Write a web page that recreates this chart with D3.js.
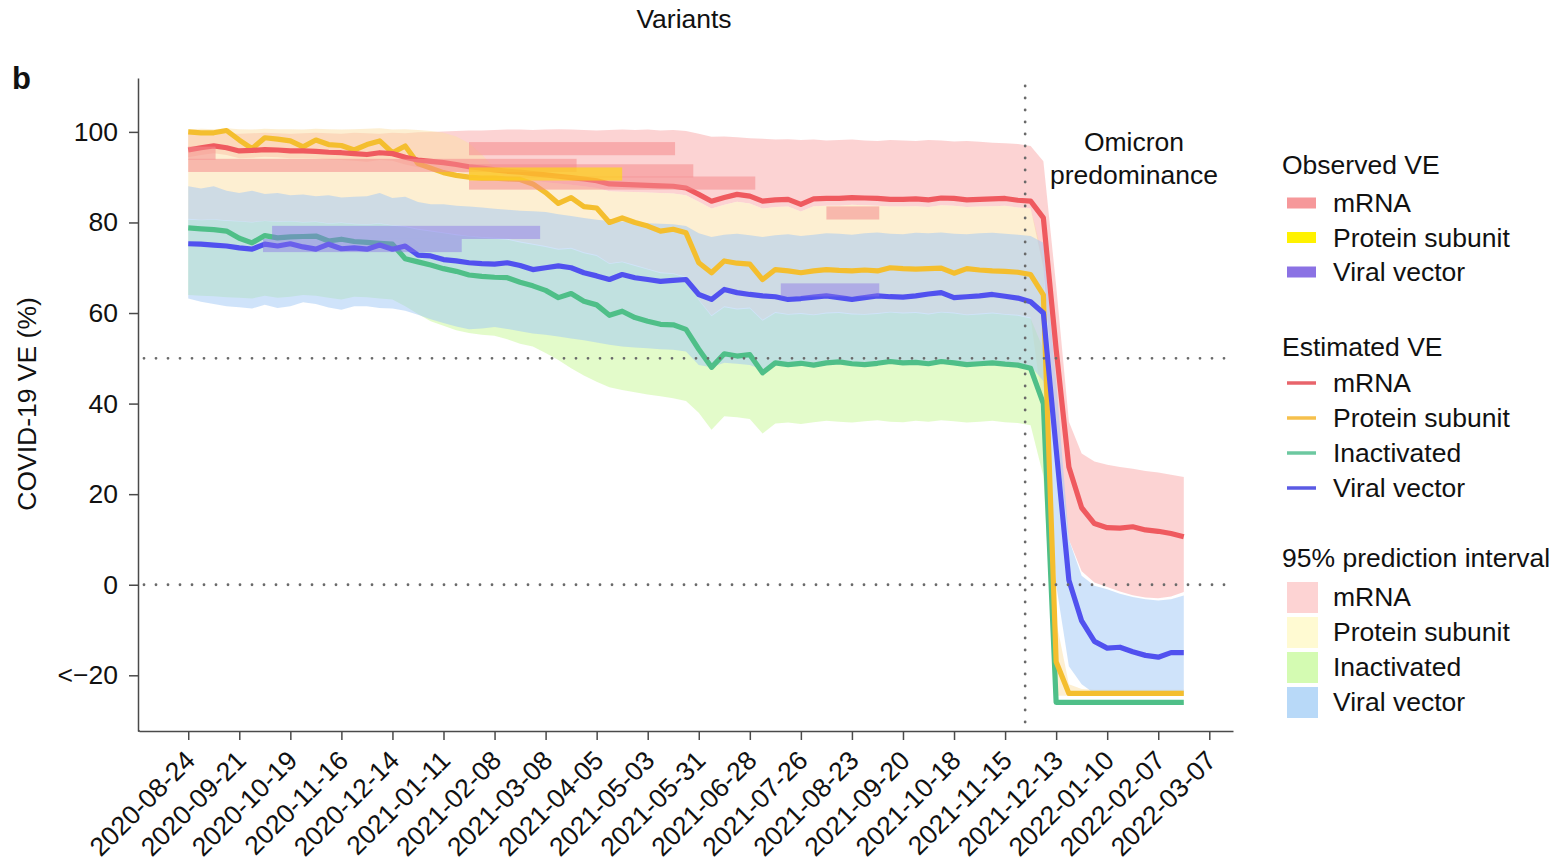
<!DOCTYPE html>
<html>
<head>
<meta charset="utf-8">
<script src="https://cdn.jsdelivr.net/npm/d3@7"></script>
<style>
  html, body { margin: 0; background: #fff; }
  svg { display: block; }
  text { font-family: "Liberation Sans", Arial, Helvetica, sans-serif; fill: #111; }
</style>
</head>
<body>
<svg id="chart" width="1568" height="863"></svg>
<script>
// ---- weekly estimates, 2020-08-24 .. 2022-02-21 ----
const firstWeek = "2020-08-24";
const lastWeek = "2022-02-21";
const omicronStart = "2021-11-26";

const tickLabels = ["2020-08-24","2020-09-21","2020-10-19","2020-11-16","2020-12-14","2021-01-11",
  "2021-02-08","2021-03-08","2021-04-05","2021-05-03","2021-05-31","2021-06-28","2021-07-26",
  "2021-08-23","2021-09-20","2021-10-18","2021-11-15","2021-12-13","2022-01-10","2022-02-07","2022-03-07"];
const yTicks = [-20, 0, 20, 40, 60, 80, 100];
const yTickLabels = ["<\u221220", "0", "20", "40", "60", "80", "100"];
const refLevels = [0, 50];

// estimated VE (%)
const mrnaVE = [96.0,96.5,96.9,96.5,95.8,95.9,96.1,96.0,95.8,95.8,95.7,95.5,95.4,95.2,95.0,95.4,95.2,94.4,
  93.8,93.5,93.2,92.8,92.3,92.0,91.6,91.3,91.1,90.8,90.5,90.2,89.9,89.6,89.2,88.5,88.4,88.3,88.2,88.1,88.0,87.6,86.2,
  84.7,85.5,86.2,85.8,84.7,85.0,85.1,84.0,85.2,85.3,85.3,85.5,85.4,85.3,85.1,85.1,85.2,85.0,85.4,85.3,85.0,85.1,85.2,85.3,84.9,84.7,
  81.0,52.0,26.0,17.0,13.5,12.6,12.5,12.8,12.1,11.8,11.3,10.6];
const proteinVE = [100.0,99.8,99.8,100.3,98.2,96.3,98.7,98.4,98.0,96.7,98.2,97.2,97.0,96.0,97.2,98.0,95.4,96.9,
  93.0,92.0,91.0,90.4,90.0,89.8,89.8,89.6,89.5,88.5,86.6,84.2,85.5,83.5,83.2,80.0,81.0,80.0,79.2,78.1,78.5,77.7,71.1,
  68.9,71.5,71.0,70.8,67.4,69.6,69.3,68.9,69.3,69.6,69.4,69.3,69.5,69.3,70.0,69.8,69.7,69.8,69.9,68.8,69.8,69.5,69.3,69.2,69.0,68.5,
  64.0,-17.0,-24.0,-24.0,-24.0,-24.0,-24.0,-24.0,-24.0,-24.0,-24.0,-24.0];
const inactivatedVE = [78.8,78.6,78.4,78.1,76.5,75.5,77.1,76.6,76.8,76.9,77.0,75.9,76.3,75.8,75.6,75.4,75.2,72.0,
  71.3,70.6,69.8,69.2,68.4,68.1,67.9,67.8,66.8,66.0,65.0,63.4,64.3,62.6,61.8,59.5,60.4,59.0,58.2,57.5,57.4,56.4,52.0,
  48.0,51.0,50.5,50.8,46.8,49.0,48.6,48.9,48.5,49.0,49.2,48.8,48.6,48.9,49.3,49.0,49.1,48.8,49.3,49.0,48.6,48.8,49.0,48.7,48.5,47.8,
  40.0,-26.0,-26.0,-26.0,-26.0,-26.0,-26.0,-26.0,-26.0,-26.0,-26.0,-26.0];
const viralVectorVE = [75.3,75.2,75.0,74.8,74.4,74.1,75.2,74.8,75.3,74.6,74.1,75.2,74.2,74.4,74.1,75.0,74.1,74.8,
  72.8,72.6,71.8,71.5,71.1,70.9,70.8,71.1,70.5,69.6,70.0,70.4,70.0,68.9,68.2,67.4,68.5,67.8,67.4,67.0,67.2,67.4,64.1,
  63.0,65.2,64.5,64.1,63.8,63.6,63.0,63.2,63.5,63.8,63.4,63.0,63.4,63.8,63.6,63.5,63.8,64.2,64.5,63.4,63.6,63.8,64.1,63.7,63.3,62.5,
  60.0,30.0,1.0,-8.0,-12.5,-14.0,-13.8,-14.8,-15.6,-16.0,-15.0,-15.0];

// 95% prediction intervals (%)
const mrnaUpper = [99.6,99.7,99.8,99.7,99.6,99.7,99.8,99.7,99.6,99.7,99.8,99.7,99.6,99.8,99.7,99.6,99.8,99.7,
  99.9,100.0,100.1,100.2,100.3,100.3,100.4,100.5,100.5,100.4,100.5,100.6,100.5,100.4,100.3,100.4,100.5,100.4,100.5,100.3,100.4,100.2,99.6,
  98.9,99.0,98.8,98.6,98.5,98.3,98.4,98.2,98.3,98.1,98.2,98.3,98.1,98.0,98.2,98.1,98.0,98.2,98.1,97.9,98.0,97.8,97.6,97.5,97.3,96.9,
  93.5,66.0,36.0,29.0,27.2,26.5,26.0,25.6,25.1,24.8,24.3,23.8];
const mrnaLower = [94.4,94.9,95.3,94.9,94.2,94.3,94.5,94.4,94.2,94.2,94.1,93.9,93.8,93.6,93.4,93.8,93.6,92.8,
  92.2,91.9,91.6,91.2,90.7,90.4,90.0,89.7,89.5,89.2,88.9,88.6,88.3,88.0,87.6,86.9,86.8,86.7,86.6,86.5,86.4,86.0,84.6,
  83.1,83.9,84.6,84.2,83.1,83.4,83.5,82.4,83.6,83.7,83.7,83.9,83.8,83.7,83.5,83.5,83.6,83.4,83.8,83.7,83.4,83.5,83.6,83.7,83.3,83.1,
  70.0,34.0,10.0,3.0,0.5,-0.5,-1.5,-2.3,-2.8,-3.0,-2.6,-1.6];
const proteinUpper = [100.6,100.7,100.6,100.8,100.6,100.5,100.7,100.6,100.6,100.5,100.7,100.6,100.5,100.6,100.7,100.8,100.5,100.6,
  100.4,100.2,99.8,99.0,97.5,95.0,92.0,89.7,89.5,89.2,88.9,88.6,88.3,88.0,87.6,86.9,86.8,86.7,86.6,86.5,86.4,86.0,84.6,
  83.1,83.9,84.6,84.2,83.1,83.4,83.5,82.4,83.6,83.7,83.7,83.9,83.8,83.7,83.5,83.5,83.6,83.4,83.8,83.7,83.4,83.5,83.6,83.7,83.3,83.1,
  72.0,-8.0,-22.0,-23.0,-23.2,-23.2,-23.2,-23.2,-23.2,-23.2,-23.2,-23.2];
const proteinLower = [80.8,80.6,80.7,80.5,80.3,80.1,80.4,80.2,80.3,80.1,80.2,79.8,80.0,79.7,79.6,79.8,79.4,79.2,
  78.6,78.2,77.8,77.4,77.0,76.8,76.6,76.4,75.8,75.3,74.8,74.2,74.4,73.4,72.8,71.0,71.4,70.6,69.8,69.0,68.8,68.0,63.0,
  59.5,61.5,61.0,61.2,58.5,60.2,59.8,60.0,59.7,60.1,60.2,59.9,59.8,60.0,60.3,60.1,60.2,59.9,60.3,60.1,59.7,59.9,60.1,59.8,59.6,59.0,
  38.0,-24.5,-24.5,-24.5,-24.5,-24.5,-24.5,-24.5,-24.5,-24.5,-24.5,-24.5];
const inactivatedUpper = [80.6,80.5,80.6,80.3,80.2,80.0,80.3,80.1,80.2,80.0,80.1,79.7,79.9,79.6,79.5,79.7,79.3,79.0,
  78.4,78.0,77.6,77.2,76.9,76.6,76.4,76.2,75.6,75.1,74.6,74.0,74.2,73.2,72.6,70.8,71.2,70.4,69.6,68.8,68.6,67.8,62.8,
  59.3,61.3,60.8,61.0,58.3,60.0,59.6,59.8,59.5,59.9,60.0,59.7,59.6,59.8,60.1,59.9,60.0,59.7,60.1,59.9,59.5,59.7,59.9,59.6,59.4,58.8,
  52.0,-25.8,-25.8,-25.8,-25.8,-25.8,-25.8,-25.8,-25.8,-25.8,-25.8,-25.8];
const inactivatedLower = [64.0,63.8,63.7,63.5,63.4,63.2,63.8,63.4,63.6,64.0,63.8,63.4,63.0,63.6,63.5,63.2,63.0,61.5,
  59.8,58.2,57.2,56.2,55.6,55.2,55.0,54.2,53.2,52.6,51.2,49.6,47.8,46.2,44.8,43.6,43.0,42.5,42.0,41.6,41.2,40.6,38.0,
  34.2,37.2,37.0,36.6,33.4,35.6,35.8,35.5,35.9,36.2,36.0,35.8,36.1,36.3,36.0,35.9,36.2,36.0,36.3,36.1,35.8,36.0,36.2,35.9,35.7,35.2,
  24.0,-26.5,-26.5,-26.5,-26.5,-26.5,-26.5,-26.5,-26.5,-26.5,-26.5,-26.5];
const viralVectorUpper = [88.0,87.5,88.0,87.0,86.5,87.0,86.3,86.5,86.0,86.2,85.8,86.0,85.5,85.7,85.8,86.5,85.4,85.7,
  84.5,84.0,84.0,83.7,83.5,83.3,83.0,82.8,82.6,82.5,82.3,81.8,81.4,81.0,80.6,80.3,80.2,80.0,79.8,79.7,79.6,79.2,77.6,
  76.8,77.3,77.5,77.2,76.8,77.2,77.4,77.0,77.3,77.6,77.5,77.3,77.6,77.8,77.5,77.4,77.7,77.6,77.8,77.5,77.4,77.6,77.7,77.5,77.3,77.0,
  75.5,45.0,10.0,2.0,-0.2,-1.0,-2.0,-2.7,-3.2,-3.5,-3.2,-2.4];
const viralVectorLower = [63.2,62.5,62.0,61.5,61.3,61.0,61.8,61.1,61.5,62.4,62.0,61.2,60.7,61.5,61.5,61.1,61.0,60.5,
  59.6,58.6,57.8,57.0,56.4,56.6,56.9,56.5,56.0,55.5,55.2,54.8,54.4,54.0,53.5,53.0,52.6,52.4,52.2,52.0,51.9,51.5,48.5,
  48.0,49.0,48.8,48.5,47.5,48.5,48.6,48.4,48.7,48.9,49.0,48.8,48.7,48.9,49.1,48.9,49.0,48.8,49.2,49.0,48.7,48.9,49.0,48.8,48.6,48.3,
  45.0,0.0,-18.0,-22.0,-24.0,-24.5,-24.5,-24.5,-24.5,-24.5,-24.5,-24.5];

// observed VE from studies: platform, period start/end, VE (%)
const obsPlatform = ["mRNA","mRNA","mRNA","mRNA","mRNA","mRNA","Protein subunit","Viral vector","Viral vector","Viral vector"];
const obsStart = ["2020-08-24","2020-08-24","2021-01-25","2021-01-25","2021-01-25","2021-08-09","2021-01-25","2020-10-09","2020-10-04","2021-07-15"];
const obsEnd   = ["2020-09-08","2021-03-25","2021-05-18","2021-05-28","2021-07-01","2021-09-07","2021-04-19","2021-03-05","2021-01-21","2021-09-07"];
const obsVE    = [95.3, 92.6, 96.3, 91.4, 88.7, 82.1, 90.7, 77.8, 74.9, 65.1];

// legend / series styling
const platforms = ["mRNA", "Protein subunit", "Inactivated", "Viral vector"];
const lineColor = { "mRNA": "#ef5a5f", "Protein subunit": "#f4be2e", "Inactivated": "#4fbf88", "Viral vector": "#5151ef" };
const legendLineColor = { "mRNA": "#e8646b", "Protein subunit": "#f6c04c", "Inactivated": "#6cc8a0", "Viral vector": "#5a5ae4" };
const bandColor = { "mRNA": "#f9a8a8", "Protein subunit": "#fcdfa6", "Inactivated": "#c8f796", "Viral vector": "#a0c8f5" };
const bandSwatch = { "mRNA": "#fdd3d3", "Protein subunit": "#fffad2", "Inactivated": "#d4fbb2", "Viral vector": "#b8d9f8" };
const obsColor = { "mRNA": "#f48a8c", "Protein subunit": "#ffe100", "Viral vector": "#8a74e6" };
const obsOpacity = { "mRNA": 0.55, "Protein subunit": 0.6, "Viral vector": 0.45 };
const obsSwatch = { "mRNA": "#f6989a", "Protein subunit": "#fff200", "Viral vector": "#8b72e4" };

const parse = d3.utcParse("%Y-%m-%d");
const weeks = d3.utcDay.range(parse(firstWeek), d3.utcDay.offset(parse(lastWeek), 1), 7);

const series = {
  "mRNA":            { ve: mrnaVE,        lo: mrnaLower,        hi: mrnaUpper },
  "Protein subunit": { ve: proteinVE,     lo: proteinLower,     hi: proteinUpper },
  "Inactivated":     { ve: inactivatedVE, lo: inactivatedLower, hi: inactivatedUpper },
  "Viral vector":    { ve: viralVectorVE, lo: viralVectorLower, hi: viralVectorUpper }
};

const fs = 26.5;
const svg = d3.select("#chart");
const plot = { left: 138, right: 1232, top: 78, bottom: 731 };

const x = d3.scaleUtc().domain([parse("2020-07-28"), parse("2022-03-20")]).range([139, 1233]);
const y = d3.scaleLinear().domain([-32.3, 111.9]).range([plot.bottom, plot.top]);

svg.append("defs").append("clipPath").attr("id", "plotClip")
  .append("rect").attr("x", plot.left).attr("y", plot.top)
  .attr("width", plot.right - plot.left).attr("height", plot.bottom - plot.top);

const g = svg.append("g").attr("clip-path", "url(#plotClip)");

// prediction interval bands
const area = d3.area().x((d, i) => x(weeks[i])).y0(d => y(d[0])).y1(d => y(d[1]));
platforms.forEach(p => {
  const s = series[p];
  g.append("path")
    .datum(s.lo.map((v, i) => [v, s.hi[i]]))
    .attr("d", area)
    .attr("fill", bandColor[p])
    .attr("fill-opacity", 0.5);
});

// reference lines
const dotted = { stroke: "#6a6a6a", "stroke-width": 2.8, "stroke-dasharray": "0,12", "stroke-linecap": "round" };
refLevels.forEach(v => {
  const l = svg.append("line").attr("x1", plot.left + 6).attr("x2", plot.right)
    .attr("y1", y(v)).attr("y2", y(v));
  Object.entries(dotted).forEach(([k, val]) => l.attr(k, val));
});
const vl = svg.append("line").attr("x1", x(parse(omicronStart))).attr("x2", x(parse(omicronStart)))
  .attr("y1", plot.top + 8).attr("y2", plot.bottom);
Object.entries(dotted).forEach(([k, val]) => vl.attr(k, val));

// estimated VE lines
const line = d3.line().x((d, i) => x(weeks[i])).y(d => y(d));
["Inactivated", "Protein subunit", "Viral vector", "mRNA"].forEach(p => {
  g.append("path")
    .datum(series[p].ve)
    .attr("d", line)
    .attr("fill", "none")
    .attr("stroke", lineColor[p])
    .attr("stroke-width", 5.2)
    .attr("stroke-linejoin", "round")
    .attr("stroke-linecap", "butt");
});

// observed VE bars
const obsHalf = 1.45;
g.selectAll("rect.obs")
  .data(obsVE.map((v, i) => ({ p: obsPlatform[i], s: parse(obsStart[i]), e: parse(obsEnd[i]), v })))
  .join("rect")
  .attr("class", "obs")
  .attr("x", d => x(d.s))
  .attr("width", d => x(d.e) - x(d.s))
  .attr("y", d => y(d.v + obsHalf))
  .attr("height", d => y(d.v - obsHalf) - y(d.v + obsHalf))
  .attr("fill", d => obsColor[d.p])
  .attr("fill-opacity", d => obsOpacity[d.p]);

// axes
const axisColor = "#4a4a4a";
const yAxis = svg.append("g").attr("transform", `translate(${plot.left},0)`)
  .call(d3.axisLeft(y).tickValues(yTicks).tickFormat((d, i) => yTickLabels[i])
    .tickSize(9).tickSizeOuter(0).tickPadding(11));
const xAxis = svg.append("g").attr("transform", `translate(0,${plot.bottom})`)
  .call(d3.axisBottom(x).tickValues(tickLabels.map(parse)).tickFormat((d, i) => tickLabels[i])
    .tickSize(9).tickSizeOuter(0));
[yAxis, xAxis].forEach(a => {
  a.select(".domain").attr("stroke", axisColor).attr("stroke-width", 1.5);
  a.selectAll(".tick line").attr("stroke", axisColor).attr("stroke-width", 1.5);
  a.selectAll("text").attr("font-size", fs).attr("fill", "#111").style("font-family", null);
});
xAxis.selectAll("text")
  .attr("x", 0).attr("y", 0).attr("dy", null)
  .attr("text-anchor", "end")
  .attr("transform", "translate(8,31) rotate(-45)");
// close the corner between the two axis lines
svg.append("line").attr("x1", plot.left).attr("x2", plot.left + 2)
  .attr("y1", plot.bottom).attr("y2", plot.bottom).attr("stroke", axisColor).attr("stroke-width", 1.5);

// titles and annotations
svg.append("text").attr("x", 684).attr("y", 28).attr("text-anchor", "middle")
  .attr("font-size", fs).text("Variants");
svg.append("text").attr("x", 12).attr("y", 89).attr("font-size", 31).attr("font-weight", "bold").text("b");
svg.append("text").attr("transform", "translate(36,404) rotate(-90)").attr("text-anchor", "middle")
  .attr("font-size", fs).text("COVID-19 VE (%)");
svg.append("text").attr("x", 1134).attr("y", 151).attr("text-anchor", "middle")
  .attr("font-size", fs).text("Omicron");
svg.append("text").attr("x", 1134).attr("y", 184).attr("text-anchor", "middle")
  .attr("font-size", fs).text("predominance");

// legend
const lg = svg.append("g");
const lx = 1282, sx = 1287, tx = 1333;
lg.append("text").attr("x", lx).attr("y", 174).attr("font-size", fs).text("Observed VE");
["mRNA", "Protein subunit", "Viral vector"].forEach((p, i) => {
  const yy = 203 + i * 34.5;
  lg.append("rect").attr("x", sx).attr("y", yy - 5.5).attr("width", 29).attr("height", 11).attr("fill", obsSwatch[p]);
  lg.append("text").attr("x", tx).attr("y", yy + 9).attr("font-size", fs).text(p);
});
lg.append("text").attr("x", lx).attr("y", 356).attr("font-size", fs).text("Estimated VE");
platforms.forEach((p, i) => {
  const yy = 383 + i * 35;
  lg.append("line").attr("x1", sx).attr("x2", sx + 29).attr("y1", yy).attr("y2", yy)
    .attr("stroke", legendLineColor[p]).attr("stroke-width", 3.5);
  lg.append("text").attr("x", tx).attr("y", yy + 9).attr("font-size", fs).text(p);
});
lg.append("text").attr("x", lx).attr("y", 567).attr("font-size", fs).text("95% prediction interval");
platforms.forEach((p, i) => {
  const yy = 597 + i * 35;
  lg.append("rect").attr("x", sx).attr("y", yy - 15).attr("width", 31).attr("height", 31).attr("fill", bandSwatch[p]);
  lg.append("text").attr("x", tx).attr("y", yy + 9).attr("font-size", fs).text(p);
});
</script>
</body>
</html>
